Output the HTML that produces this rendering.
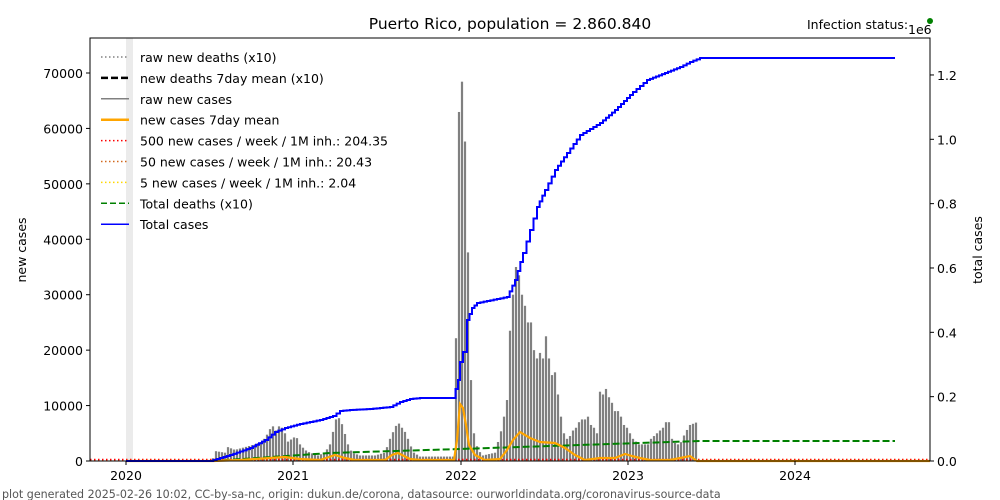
<!DOCTYPE html>
<html><head><meta charset="utf-8"><style>
body{margin:0;background:#fff;}
svg{display:block;font-family:"DejaVu Sans","Liberation Sans",sans-serif;}
</style></head><body>
<svg id="s" width="1000" height="500" xmlns="http://www.w3.org/2000/svg">
<rect width="1000" height="500" fill="#fff"/>
<rect x="126" y="38" width="7" height="423" fill="#ebebeb"/>
<g id="bars" fill="#808080"></g>
<line x1="90" y1="460" x2="930" y2="460" stroke="#ffd700" stroke-width="1.5" stroke-dasharray="1.5,2.5"/>
<line x1="90" y1="460.5" x2="930" y2="460.5" stroke="#d2691e" stroke-width="1.5" stroke-dasharray="1.5,2.5"/>
<line x1="90" y1="459.5" x2="930" y2="459.5" stroke="#ff0000" stroke-width="1.5" stroke-dasharray="1.5,2.5"/>
<polyline fill="none" stroke="#008000" stroke-width="2" stroke-dasharray="7,3" points="213,461 330,453 460,449 700,441 895,441"/>
<polyline id="orange" fill="none" stroke="#ffa500" stroke-width="2.2" points=""/>
<polyline id="blue" fill="none" stroke="#0000ff" stroke-width="2" points=""/>
<rect x="90" y="38" width="840" height="423" fill="none" stroke="#000" stroke-width="1"/>
<g font-size="12.5" fill="#000">
<g stroke="#000"><line x1="126" y1="461" x2="126" y2="465"/><line x1="293" y1="461" x2="293" y2="465"/><line x1="461" y1="461" x2="461" y2="465"/><line x1="628" y1="461" x2="628" y2="465"/><line x1="795" y1="461" x2="795" y2="465"/></g>
<text x="126" y="480" text-anchor="middle">2020</text><text x="293" y="480" text-anchor="middle">2021</text><text x="461" y="480" text-anchor="middle">2022</text><text x="628" y="480" text-anchor="middle">2023</text><text x="795" y="480" text-anchor="middle">2024</text>
<g id="ly" text-anchor="end"></g>
<g id="ry"></g>
<text x="26" y="250" text-anchor="middle" transform="rotate(-90 26 250)">new cases</text>
<text x="982" y="250" text-anchor="middle" transform="rotate(-90 982 250)">total cases</text>
<text x="908" y="34">1e6</text>
<text x="510" y="29" text-anchor="middle" font-size="15.5">Puerto Rico, population = 2.860.840</text>
<text x="807" y="29">Infection status:</text>
<circle cx="930" cy="21" r="3" fill="#008000"/>
</g>
<g font-size="12.5" id="leg"></g>
<text x="2" y="498" font-size="11.1" fill="#555">plot generated 2025-02-26 10:02, CC-by-sa-nc, origin: dukun.de/corona, datasource: ourworldindata.org/coronavirus-source-data</text>
</svg>
<script>
var NS="http://www.w3.org/2000/svg";
function el(p,t,a,txt){var e=document.createElementNS(NS,t);for(var k in a)e.setAttribute(k,a[k]);if(txt)e.textContent=txt;p.appendChild(e);return e;}
var Y0=461,K=5.543;
var ly=document.getElementById('ly');
for(var v=0;v<=70000;v+=10000){var y=Y0-v/1000*K;el(ly,'line',{x1:86,y1:y,x2:90,y2:y,stroke:'#000'});el(ly,'text',{x:83,y:y+5},String(v));}
var ry=document.getElementById('ry');
for(var i=0;i<=6;i++){var y=461-i*0.2*321.7;el(ry,'line',{x1:930,y1:y,x2:934,y2:y,stroke:'#000'});el(ry,'text',{x:937,y:y+5},(i*0.2).toFixed(1));}
var kp=[[213,0.5],[215,1.8],[225,1.5],[228,2.5],[235,2],[245,2.5],[255,3],[262,3.5],[268,5],[272,6.5],[276,5.5],[280,6.5],[284,5.5],[288,3.5],[292,4],[296,4.5],[300,3],[305,2],[310,1.5],[318,1],[325,1.5],[330,3],[336,7.5],[340,7.8],[344,5.5],[348,3],[352,1.5],[360,1],[375,1],[385,1.5],[390,4],[395,6],[398,7],[402,6],[406,5],[410,3],[414,1.5],[420,0.8],[455,0.8],[457,43.5],[460,72.7],[463,66.3],[466,53.3],[469,29.8],[472,7],[475,4],[478,2],[483,1],[495,1.5],[502,6],[507,11],[510,23.5],[513,30],[516,35],[519,33.5],[522,30],[525,28],[528,25],[531,25],[534,20],[537,18.5],[540,19.5],[543,18.5],[546,22.5],[549,18.5],[552,15.5],[555,16],[558,12],[561,8],[564,5],[567,4],[570,4.5],[573,5.5],[576,6],[579,7],[582,7.5],[585,7.5],[588,8],[591,6.5],[594,6],[597,5],[600,12.5],[603,12],[606,13],[609,11.5],[612,10.5],[615,9],[618,9],[621,8],[624,6.5],[627,6],[630,5],[633,4],[636,3.5],[639,3],[648,3],[651,4],[654,4.5],[657,5],[660,5.5],[663,6],[666,7],[669,7],[672,4],[676,3],[680,3],[685,5],[690,6.5],[697,7]];
function interp(x){if(x<kp[0][0]||x>kp[kp.length-1][0])return 0;for(var i=0;i<kp.length-1;i++){var a=kp[i],b=kp[i+1];if(x>=a[0]&&x<=b[0])return a[1]+(b[1]-a[1])*(x-a[0])/(b[0]-a[0]||1);}return 0;}
var bars=document.getElementById('bars');
for(var x=213;x<=698;x+=3){var v=interp(x);var h=v*K;el(bars,'rect',{x:x-1.1,y:Y0-h,width:2.2,height:h});}
var op=[[126,461],[213,461],[240,460],[270,458],[285,457],[300,459],[320,460],[335,455],[345,458],[355,460],[385,460],[392,455],[398,453],[410,459],[420,460],[454,460],[457,440],[460,404],[463,408],[466,425],[469,445],[475,455],[485,460],[500,459],[507,450],[513,440],[520,432],[530,438],[540,442],[555,443],[565,448],[575,455],[585,460],[600,458],[615,458],[625,454],[632,456],[640,458],[650,460],[670,460],[690,456],[697,461],[930,461]];
document.getElementById('orange').setAttribute('points',op.map(function(p){return p.join(',');}).join(' '));
var bp=[[126,461],[210,461],[230,455],[250,448],[265,440],[275,432],[285,428],[300,424],[320,420],[333,416],[340,411],[350,410],[370,409],[390,407],[400,402],[410,399],[420,398],[453,398],[458,380],[460,362],[463,352],[467,320],[472,308],[477,303],[507,297],[515,280],[523,253],[530,230],[537,207],[545,190],[555,170],[567,153],[580,135],[600,123],[615,110],[633,92],[647,80],[665,73],[680,67],[690,62],[700,58],[895,58]];
var pts=[];for(var i=0;i<bp.length-1;i++){var a=bp[i],b=bp[i+1];var n=Math.max(1,Math.round((b[0]-a[0])/3.2));for(var j=0;j<n;j++){var x=a[0]+(b[0]-a[0])*j/n,x2=a[0]+(b[0]-a[0])*(j+1)/n,y=a[1]+(b[1]-a[1])*(j+1)/n,yp=a[1]+(b[1]-a[1])*j/n;pts.push(x+','+yp,x2+','+yp,x2+','+y);}}
document.getElementById('blue').setAttribute('points',pts.join(' '));
var leg=document.getElementById('leg');
var items=[['#808080','1.5','1.5,2.5','raw new deaths (x10)'],['#000','2.5','7,3','new deaths 7day mean (x10)'],['#808080','1.5','','raw new cases'],['#ffa500','2.5','','new cases 7day mean'],['#ff0000','1.5','1.5,2.5','500 new cases / week / 1M inh.: 204.35'],['#d2691e','1.5','1.5,2.5','50 new cases / week / 1M inh.: 20.43'],['#ffd700','1.5','1.5,2.5','5 new cases / week / 1M inh.: 2.04'],['#008000','1.5','6,3','Total deaths (x10)'],['#0000ff','1.5','','Total cases']];
items.forEach(function(it,i){var y=57+i*20.9;var a={x1:101,y1:y,x2:129,y2:y,stroke:it[0],'stroke-width':it[1]};if(it[2])a['stroke-dasharray']=it[2];el(leg,'line',a);el(leg,'text',{x:140,y:y+5},it[3]);});
</script>
</body></html>
